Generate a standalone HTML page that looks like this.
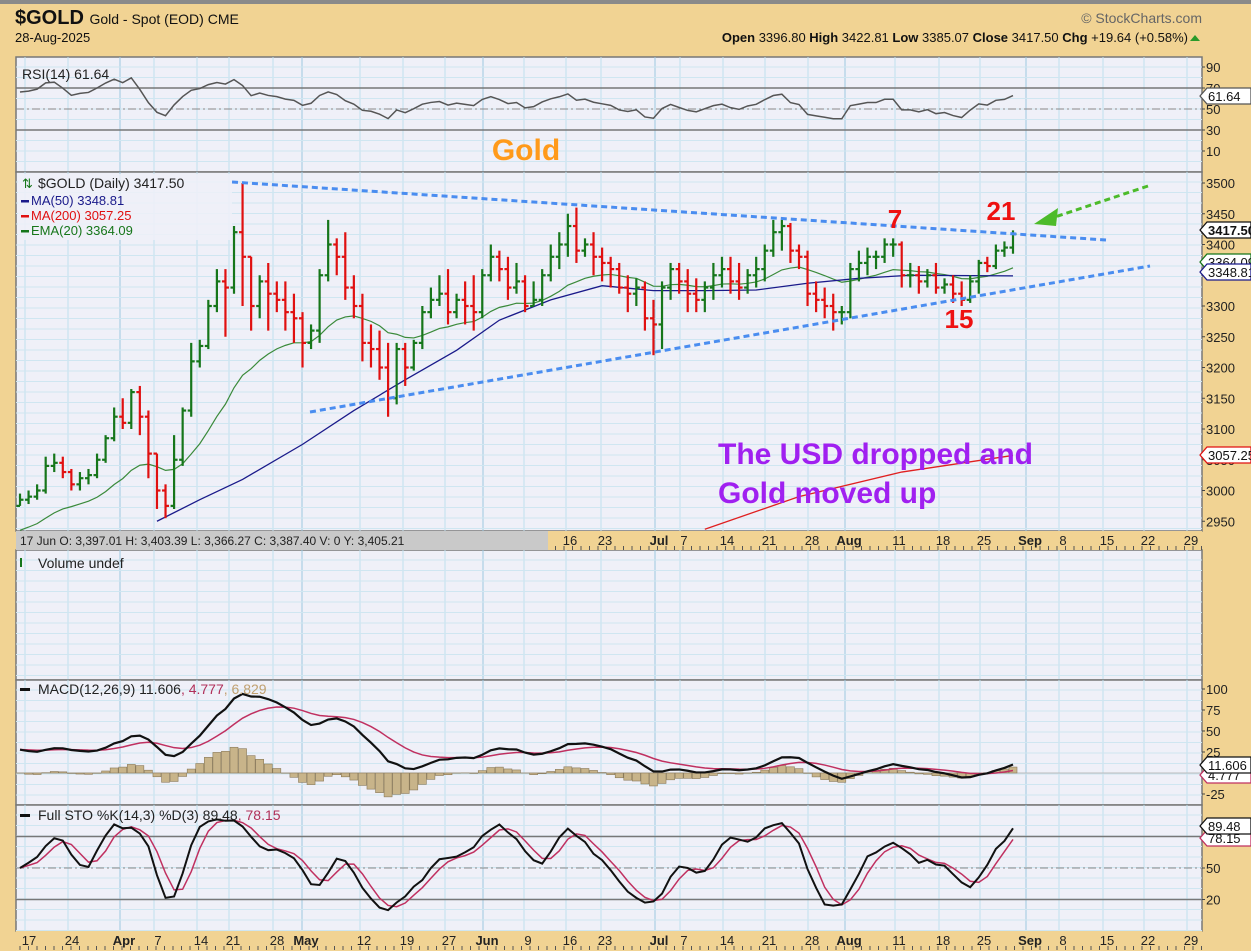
<!DOCTYPE html>
<html><head><meta charset="utf-8">
<style>
html,body{margin:0;padding:0;background:#f1d393;}
svg{display:block;font-family:"Liberation Sans",sans-serif;}
</style></head>
<body>
<svg id="c" width="1251" height="951" viewBox="0 0 1251 951" xmlns="http://www.w3.org/2000/svg">
<rect x="0" y="0" width="1251" height="951" fill="#f1d393"/>
<rect x="0" y="0" width="1251" height="4" fill="#8a8a8a"/>
<text x="15" y="24" font-size="20" font-weight="bold" fill="#111">$GOLD <tspan font-size="14" font-weight="normal">Gold - Spot (EOD)  CME</tspan></text>
<text x="15" y="42" font-size="13" fill="#111">28-Aug-2025</text>
<text x="1202" y="23" font-size="14" fill="#666" text-anchor="end">© StockCharts.com</text>
<text x="1188" y="42" font-size="13" fill="#111" text-anchor="end"><tspan font-weight="bold">Open</tspan> 3396.80 <tspan font-weight="bold">High</tspan> 3422.81 <tspan font-weight="bold">Low</tspan> 3385.07 <tspan font-weight="bold">Close</tspan> 3417.50 <tspan font-weight="bold">Chg</tspan> +19.64 (+0.58%)</text>
<polygon points="1190,41 1200,41 1195,35" fill="#2a9a2a"/>
<g id="panels"></g>
</svg>
<script>
// ---------- data ----------
const closes=[2985,2990,3000,3040,3045,3030,3010,3020,3025,3050,3085,3120,3110,3160,3120,3060,3000,2975,3050,3130,3210,3235,3300,3340,3330,3420,3380,3300,3340,3320,3310,3290,3280,3240,3260,3350,3400,3380,3330,3300,3240,3230,3200,3150,3230,3200,3240,3290,3310,3320,3290,3310,3300,3290,3350,3380,3360,3330,3340,3300,3310,3350,3380,3400,3430,3390,3400,3380,3370,3360,3330,3320,3330,3280,3270,3330,3360,3340,3320,3310,3330,3350,3360,3340,3330,3350,3360,3390,3420,3430,3390,3380,3320,3310,3300,3290,3290,3360,3370,3380,3380,3400,3400,3350,3350,3340,3350,3330,3335,3320,3310,3340,3370,3365,3390,3395,3417];
const highs=[2995,3000,3010,3055,3060,3055,3035,3030,3035,3060,3090,3135,3150,3165,3170,3130,3060,3010,3090,3135,3240,3245,3310,3360,3360,3430,3500,3380,3350,3370,3340,3340,3320,3290,3270,3360,3440,3410,3420,3350,3320,3270,3260,3240,3240,3240,3245,3300,3330,3350,3360,3320,3340,3350,3360,3400,3390,3380,3370,3350,3340,3360,3400,3420,3450,3460,3410,3420,3395,3380,3370,3350,3345,3340,3310,3340,3370,3370,3360,3345,3340,3370,3380,3380,3370,3360,3380,3400,3440,3440,3435,3400,3390,3340,3330,3320,3300,3370,3390,3395,3390,3410,3410,3405,3370,3365,3360,3370,3345,3350,3340,3350,3375,3380,3400,3405,3423];
const lows=[2975,2978,2985,2995,3030,3020,3000,3000,3010,3020,3045,3080,3100,3100,3090,3020,2970,2955,2970,3040,3120,3200,3230,3290,3250,3320,3300,3260,3280,3260,3290,3260,3240,3200,3230,3240,3340,3350,3310,3280,3210,3200,3180,3120,3140,3170,3195,3230,3280,3300,3270,3280,3270,3260,3280,3340,3340,3310,3320,3290,3300,3300,3340,3360,3380,3370,3380,3350,3340,3330,3320,3290,3300,3260,3220,3230,3310,3320,3290,3290,3290,3310,3330,3320,3310,3320,3330,3340,3380,3390,3370,3360,3300,3290,3280,3260,3270,3280,3340,3350,3360,3370,3380,3330,3330,3320,3330,3320,3320,3305,3300,3305,3320,3355,3360,3380,3385];
const firstOpen=2975;
const ma50Idx=[16,21,26,33,39,45,51,56,62,68,74,80,86,92,98,104,116];
const ma50Val=[2950,2985,3018,3075,3130,3180,3228,3277,3310,3333,3325,3325,3326,3337,3345,3350,3349];
const ma200Idx=[80,91,103,116];
const ma200Val=[2937,2990,3030,3057];
const priceTicks=[3500,3450,3400,3350,3300,3250,3200,3150,3100,3050,3000,2950];
const priceTickLabels=["3500","3450","3400","","3300","3250","3200","3150","3100","3050","3000","2950"];
const dateLabels=["17","24","Apr","7","14","21","28","May","12","19","27","Jun","9","16","23","Jul","7","14","21","28","Aug","11","18","25","Sep","8","15","22","29"];
const datePos=[29,72,124,158,201,233,277,306,364,407,449,487,528,570,605,659,684,727,769,812,849,899,943,984,1030,1063,1107,1148,1191];
const rsiTicks=[90,70,50,30,10];
const macdTicks=[100,75,50,25,0,-25];
const stoTicks=[80,50,20];

// ---------- layout ----------
const L=16,R=1202,N=closes.length;
const xOf=i=>20+(1013-20)*i/(N-1);
const pY=p=>183+(3500-p)*0.615;
const rY=v=>109-(v-50)*1.05;
const mY=v=>773-v*0.84;
const sY=v=>868-(v-50)*1.05;
const NS="http://www.w3.org/2000/svg";
const root=document.getElementById('panels');
function mk(tag,attrs,parent){const e=document.createElementNS(NS,tag);for(const k in attrs)e.setAttribute(k,attrs[k]);(parent||root).appendChild(e);return e;}
function txt(x,y,s,attrs,parent){const e=mk('text',Object.assign({x:x,y:y},attrs),parent);e.textContent=s;return e;}

const panels=[
 {name:'rsi-panel',t:57,b:172},
 {name:'price-panel',t:172,b:531},
 {name:'volume-panel',t:550,b:680},
 {name:'macd-panel',t:680,b:805},
 {name:'sto-panel',t:805,b:931}
];
panels.forEach(p=>{
 const g=mk('g',{});
 
 
 const r=mk('rect',{x:L,y:p.t,width:R-L,height:p.b-p.t,fill:'#eff0f8',stroke:'#777','stroke-width':1.5},g);
 
 
 // vertical grid
 datePos.forEach((x,k)=>{
  const isM=isNaN(+dateLabels[k]);
  const ln=mk('line',{x1:x-4,x2:x-4,y1:p.t,y2:p.b,stroke:isM?'#9cc9e0':'#bfe0ee','stroke-width':1},g);
  
  
 });
 // horizontal light grid
 for(let y=p.t+10;y<p.b;y+=10.5){
  const ln=mk('line',{x1:L,x2:R,y1:y,y2:y,stroke:'#cfe6f1','stroke-width':1},g);
  
  
 }
});

// ---------- axes labels ----------
function axisLabels(vals,labels,fy,prefix){
 vals.forEach((v,k)=>{
  const t=txt(R+4,fy(v)+5,labels?labels[k]:String(v),{'font-size':13,fill:'#222'});
  
  
  const tk=mk('line',{x1:R,x2:R+3,y1:fy(v),y2:fy(v),stroke:'#444'});
  
  
 });
}
axisLabels(priceTicks,priceTickLabels,pY,'price');
axisLabels(rsiTicks,null,rY,'rsi');
axisLabels(macdTicks,null,mY,'macd');
axisLabels(stoTicks,null,sY,'sto');

// date axes
function dateAxis(y0,prefix){
 const band=mk('rect',{x:L,y:y0,width:R-L,height:19,fill:'#f1d393'});
 
 
 for(let x=L+4;x<R;x+=8.5){
  const tk=mk('line',{x1:x,x2:x,y1:y0+15,y2:y0+19,stroke:'#555'});
  
  
 }
 datePos.forEach((x,k)=>{
  const isM=isNaN(+dateLabels[k]);
  const t=txt(x,y0+14,dateLabels[k],{'font-size':13,'text-anchor':'middle',fill:'#222','font-weight':isM?'bold':'normal'});
  
  
 });
}
dateAxis(531,'top-date-axis');
dateAxis(931,'bottom-date-axis');
const gb=mk('rect',{x:L,y:531,width:532,height:19,fill:'#c9c9c9'});


const gbt=txt(20,545,'17 Jun O: 3,397.01    H: 3,403.39    L: 3,366.27    C: 3,387.40    V: 0    Y: 3,405.21',{'font-size':12,fill:'#222','xml:space':'preserve'});



// ---------- RSI ----------
[70,30].forEach(v=>{const l=mk('line',{x1:L,x2:R,y1:rY(v),y2:rY(v),stroke:'#777','stroke-width':1.5});});
const l50=mk('line',{x1:L,x2:R,y1:rY(50),y2:rY(50),stroke:'#888','stroke-dasharray':'8 3 2 3'});


let ag=9,al=5;const rsi=[];
for(let i=0;i<N;i++){const o=i?closes[i-1]:firstOpen;const d=closes[i]-o;ag=(ag*13+Math.max(d,0))/14;al=(al*13+Math.max(-d,0))/14;rsi.push(100-100/(1+ag/al));}
const rsiPath=mk('polyline',{points:rsi.map((v,i)=>xOf(i)+','+rY(v)).join(' '),fill:'none',stroke:'#555','stroke-width':1.5});


const rl=txt(22,79,'RSI(14) 61.64',{'font-size':14,fill:'#222'});


const gold=txt(526,160,'Gold',{'font-size':30,'font-weight':'bold',fill:'#ff9a1a','text-anchor':'middle'});



// ---------- price ----------
const clipP=mk('clipPath',{id:'cp'});mk('rect',{x:L,y:172,width:R-L,height:359},clipP);
const pg=mk('g',{'clip-path':'url(#cp)'});


// EMA20
let e20=2930;const ema20=[];
closes.forEach(c=>{e20=e20+(c-e20)*2/21;ema20.push(e20);});
const ep=mk('polyline',{points:ema20.map((v,i)=>xOf(i)+','+pY(v)).join(' '),fill:'none',stroke:'#3a8a3a','stroke-width':1.2},pg);


const m50=mk('polyline',{points:ma50Idx.map((ix,k)=>xOf(ix)+','+pY(ma50Val[k])).join(' '),fill:'none',stroke:'#1a1a8a','stroke-width':1.3},pg);


const m200=mk('polyline',{points:ma200Idx.map((ix,k)=>xOf(ix)+','+pY(ma200Val[k])).join(' '),fill:'none',stroke:'#e02020','stroke-width':1.3},pg);


for(let i=0;i<N;i++){
 const o=i?closes[i-1]:firstOpen,c=closes[i],x=xOf(i);
 const col=c>=o?'#16761a':'#e01010';
 const b=mk('g',{stroke:col,'stroke-width':2.2},pg);
 
 
 mk('line',{x1:x,x2:x,y1:pY(highs[i]),y2:pY(lows[i])},b);
 mk('line',{x1:x-3.5,x2:x,y1:pY(o),y2:pY(o)},b);
 mk('line',{x1:x,x2:x+3.5,y1:pY(c),y2:pY(c)},b);
}
// trend lines
function dl(x1,y1,x2,y2,col,name){const l=mk('line',{x1,y1,x2,y2,stroke:col,'stroke-width':3,'stroke-dasharray':'6 4'});}
dl(232,182,1106,240,'#4a8df0','upper-trendline');
dl(310,412,1150,266,'#4a8df0','lower-trendline');
dl(1148,186,1052,218,'#4cbb2a','green-arrow-shaft');
const ah=mk('polygon',{points:'1034,224 1058,208 1056,226',fill:'#4cbb2a'});


[['7',895,228,'label-7'],['21',1001,220,'label-21'],['15',959,328,'label-15']].forEach(a=>{
 const t=txt(a[1],a[2],a[0],{'font-size':26,'font-weight':'bold',fill:'#ee1111','text-anchor':'middle'});
 
 
});
const u1=txt(718,464,'The USD dropped and',{'font-size':30,'font-weight':'bold',fill:'#a020f0'});


const u2=txt(718,503,'Gold moved up',{'font-size':30,'font-weight':'bold',fill:'#a020f0'});


// legend
const lg=mk('g',{'font-size':13});


const lb=mk('rect',{x:18,y:174,width:214,height:66,fill:'#eff0f8',opacity:0.85},lg);
txt(38,188,'$GOLD (Daily) 3417.50',{fill:'#222','font-size':14},lg);
txt(22,188,'⇅',{fill:'#16761a','font-size':13},lg);
[['MA(50) 3348.81','#1a1a8a',205],['MA(200) 3057.25','#e01010',220],['EMA(20) 3364.09','#16761a',235]].forEach(a=>{
 mk('rect',{x:21,y:a[2]-5,width:8,height:2.5,fill:a[1]},lg);
 txt(31,a[2],a[0],{fill:a[1]},lg);
});

// ---------- volume ----------
mk('rect',{x:20,y:558,width:2,height:9,fill:'#16761a'});
const vl=txt(38,568,'Volume undef',{'font-size':14,fill:'#222'});



// ---------- MACD ----------
let e12=2985,e26=2955,sig=28;const macd=[],sg=[];
closes.forEach(c=>{e12+=(c-e12)*2/13;e26+=(c-e26)*2/27;const m=e12-e26;sig+=(m-sig)*2/10;macd.push(m);sg.push(sig);});
const z=mk('line',{x1:L,x2:R,y1:mY(0),y2:mY(0),stroke:'#bbb'});


macd.forEach((m,i)=>{
 const h=m-sg[i],y0=mY(0),y1=mY(h);
 const r=mk('rect',{x:xOf(i)-4,y:Math.min(y0,y1),width:8,height:Math.abs(y1-y0),fill:'#c8b48a',stroke:'#8a7a5a','stroke-width':0.6});
 
 
});
const sgp=mk('polyline',{points:sg.map((v,i)=>xOf(i)+','+mY(v)).join(' '),fill:'none',stroke:'#c03060','stroke-width':1.5});


const mp=mk('polyline',{points:macd.map((v,i)=>xOf(i)+','+mY(v)).join(' '),fill:'none',stroke:'#111','stroke-width':2.2});


const ml=txt(38,694,'',{'font-size':14,fill:'#222'});
ml.innerHTML='MACD(12,26,9) 11.606<tspan fill="#b0305a">, 4.777</tspan><tspan fill="#c0a070">, 6.829</tspan>';


mk('rect',{x:20,y:688,width:10,height:3,fill:'#111'});

// ---------- STO ----------
[80,20].forEach(v=>{const l=mk('line',{x1:L,x2:R,y1:sY(v),y2:sY(v),stroke:'#777','stroke-width':1.5});});
const s50=mk('line',{x1:L,x2:R,y1:sY(50),y2:sY(50),stroke:'#888','stroke-dasharray':'8 3 2 3'});


const raw=[];
for(let i=0;i<N;i++){let hh=-1e9,ll=1e9;for(let j=Math.max(0,i-13);j<=i;j++){hh=Math.max(hh,highs[j]);ll=Math.min(ll,lows[j]);}raw.push(100*(closes[i]-ll)/Math.max(1,hh-ll));}
const sma=(a,n)=>a.map((v,i)=>{let s=0,c=0;for(let j=Math.max(0,i-n+1);j<=i;j++){s+=a[j];c++;}return s/c;});
const K=sma(raw,3),D=sma(K,3);
const clipS=mk('clipPath',{id:'cs'});mk('rect',{x:L,y:805,width:R-L,height:126},clipS);
const dp=mk('polyline',{points:D.map((v,i)=>xOf(i)+','+sY(v)).join(' '),fill:'none',stroke:'#c03060','stroke-width':1.5,'clip-path':'url(#cs)'});


const kp=mk('polyline',{points:K.map((v,i)=>xOf(i)+','+sY(v)).join(' '),fill:'none',stroke:'#111','stroke-width':2,'clip-path':'url(#cs)'});


const sl=txt(38,820,'',{'font-size':14,fill:'#222'});
sl.innerHTML='Full STO %K(14,3) %D(3) 89.48<tspan fill="#b0305a">, 78.15</tspan>';


mk('rect',{x:20,y:814,width:10,height:3,fill:'#111'});

// ---------- value tags ----------
function tag(y,s,col,bold,name){
 const g=mk('g',{});
 
 
 mk('polygon',{points:`${R-2},${y} ${R+5},${y-8} 1251,${y-8} 1251,${y+8} ${R+5},${y+8}`,fill:'#fff',stroke:col,'stroke-width':1.3},g);
 txt(R+6,y+5,s,{'font-size':13,fill:'#111','font-weight':bold?'bold':'normal'},g);
}
tag(96,'61.64','#555',false,'rsi-value-tag');
tag(262,'3364.09','#16761a',false,'ema20-value-tag');
tag(272,'3348.81','#1a1a8a',false,'ma50-value-tag');
tag(230,'3417.50','#111',true,'price-value-tag');
tag(455,'3057.25','#e01010',false,'ma200-value-tag');
tag(775,'4.777','#c03060',false,'macd-signal-tag');
tag(765,'11.606','#111',false,'macd-value-tag');
tag(838,'78.15','#c03060',false,'sto-d-tag');
tag(826,'89.48','#111',false,'sto-k-tag');
</script>
</body></html>
